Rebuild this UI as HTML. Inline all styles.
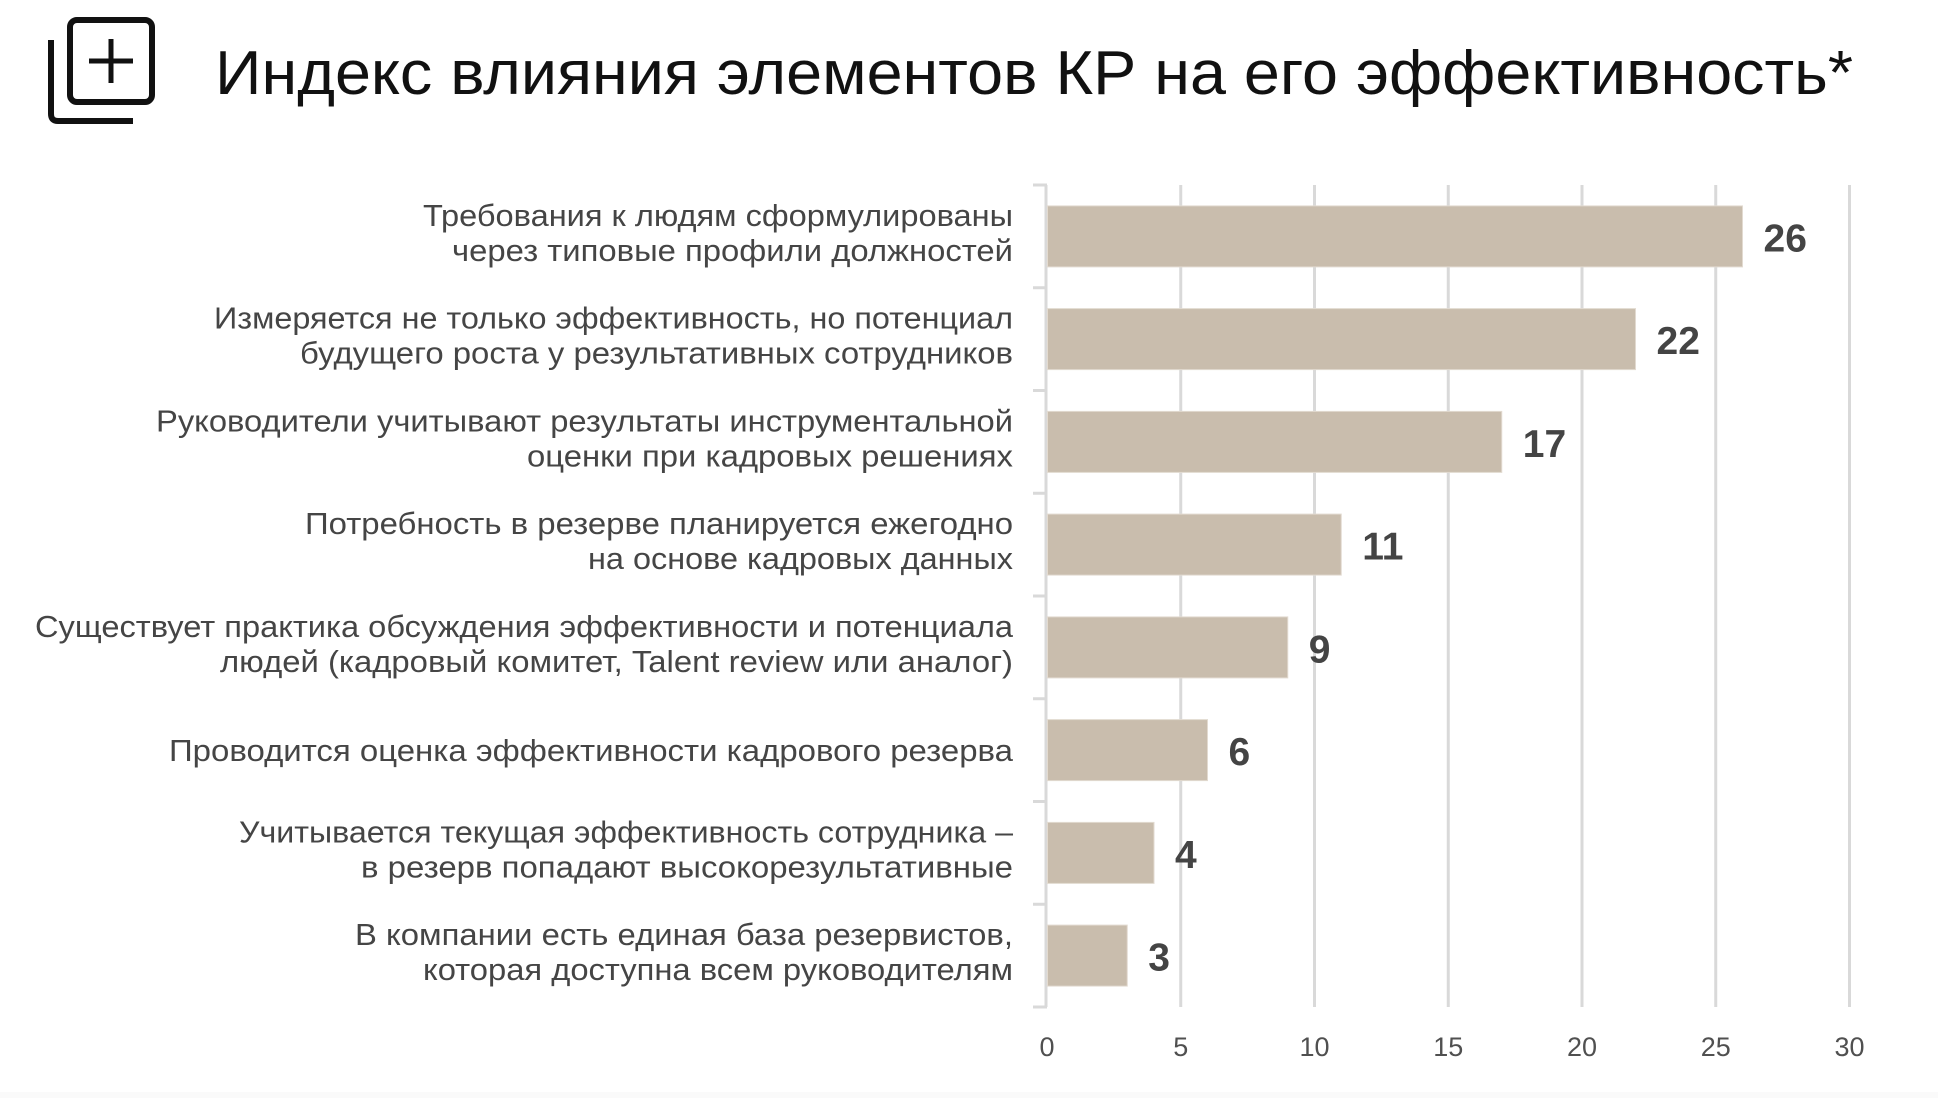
<!DOCTYPE html>
<html>
<head>
<meta charset="utf-8">
<style>
  html, body { margin:0; padding:0; background:#ffffff; }
  body { width:1938px; height:1098px; overflow:hidden; }
  svg { display:block; }
  .lbl { font-family:"Liberation Sans","Noto Sans CJK SC",sans-serif; font-size:31px; fill:#454545; }
  .val { font-family:"Liberation Sans",sans-serif; font-size:39px; font-weight:bold; fill:#444444; }
  .tick { font-family:"Liberation Sans",sans-serif; font-size:27px; fill:#505050; }
  .title { font-family:"Liberation Sans","Noto Sans CJK SC",sans-serif; font-size:62px; fill:#111111; }
</style>
</head>
<body>
<svg width="1938" height="1098" viewBox="0 0 1938 1098" xmlns="http://www.w3.org/2000/svg">
  <rect x="0" y="0" width="1938" height="1098" fill="#ffffff"/>
  <rect x="0" y="1092" width="1938" height="6" fill="#fafafa"/>

  <!-- icon -->
  <g fill="none" stroke="#111111" stroke-linecap="butt">
    <rect x="70" y="20" width="82" height="82" rx="7" stroke-width="6"/>
    <line x1="89" y1="61" x2="133" y2="61" stroke-width="5"/>
    <line x1="111" y1="39" x2="111" y2="83" stroke-width="5"/>
    <path d="M51 40 V114 Q51 121 58 121 H133" stroke-width="6"/>
  </g>

  <!-- title -->
  <text class="title" x="215" y="94" textLength="1638" lengthAdjust="spacingAndGlyphs">Индекс влияния элементов КР на его эффективность*</text>

  <!-- gridlines -->
  <g stroke="#d9d9d9" stroke-width="3">
    <line x1="1180.75" y1="185" x2="1180.75" y2="1007"/>
    <line x1="1314.5" y1="185" x2="1314.5" y2="1007"/>
    <line x1="1448.25" y1="185" x2="1448.25" y2="1007"/>
    <line x1="1582" y1="185" x2="1582" y2="1007"/>
    <line x1="1715.75" y1="185" x2="1715.75" y2="1007"/>
    <line x1="1849.5" y1="185" x2="1849.5" y2="1007"/>
    <!-- y axis -->
    <line x1="1046" y1="185" x2="1046" y2="1007"/>
    <line x1="1033" y1="185" x2="1047" y2="185"/>
    <line x1="1033" y1="287.75" x2="1047" y2="287.75"/>
    <line x1="1033" y1="390.5" x2="1047" y2="390.5"/>
    <line x1="1033" y1="493.25" x2="1047" y2="493.25"/>
    <line x1="1033" y1="596" x2="1047" y2="596"/>
    <line x1="1033" y1="698.75" x2="1047" y2="698.75"/>
    <line x1="1033" y1="801.5" x2="1047" y2="801.5"/>
    <line x1="1033" y1="904.25" x2="1047" y2="904.25"/>
    <line x1="1033" y1="1007" x2="1047" y2="1007"/>
  </g>

  <!-- bars -->
  <g fill="#c9bdad" stroke="#e2dad0" stroke-width="1">
    <rect x="1047.5" y="205.9" width="695" height="61"/>
    <rect x="1047.5" y="308.6" width="588" height="61"/>
    <rect x="1047.5" y="411.4" width="454.25" height="61"/>
    <rect x="1047.5" y="514.1" width="293.75" height="61"/>
    <rect x="1047.5" y="616.9" width="240.25" height="61"/>
    <rect x="1047.5" y="719.6" width="160" height="61"/>
    <rect x="1047.5" y="822.4" width="106.5" height="61"/>
    <rect x="1047.5" y="925.1" width="79.75" height="61"/>
  </g>

  <!-- value labels -->
  <text class="val" x="1763.5" y="251.4">26</text>
  <text class="val" x="1656.5" y="354.1">22</text>
  <text class="val" x="1522.75" y="456.9">17</text>
  <text class="val" x="1362.25" y="559.6">11</text>
  <text class="val" x="1308.75" y="662.4">9</text>
  <text class="val" x="1228.5" y="765.1">6</text>
  <text class="val" x="1175" y="867.9">4</text>
  <text class="val" x="1148.25" y="970.6">3</text>

  <!-- category labels -->
  <text class="lbl" x="423" y="225.9" textLength="590" lengthAdjust="spacingAndGlyphs">Требования к людям сформулированы</text>
  <text class="lbl" x="452" y="260.9" textLength="561" lengthAdjust="spacingAndGlyphs">через типовые профили должностей</text>

  <text class="lbl" x="214" y="328.6" textLength="799" lengthAdjust="spacingAndGlyphs">Измеряется не только эффективность, но потенциал</text>
  <text class="lbl" x="300" y="363.6" textLength="713" lengthAdjust="spacingAndGlyphs">будущего роста у результативных сотрудников</text>

  <text class="lbl" x="156" y="431.4" textLength="857" lengthAdjust="spacingAndGlyphs">Руководители учитывают результаты инструментальной</text>
  <text class="lbl" x="527" y="466.4" textLength="486" lengthAdjust="spacingAndGlyphs">оценки при кадровых решениях</text>

  <text class="lbl" x="305" y="534.1" textLength="708" lengthAdjust="spacingAndGlyphs">Потребность в резерве планируется ежегодно</text>
  <text class="lbl" x="588" y="569.1" textLength="425" lengthAdjust="spacingAndGlyphs">на основе кадровых данных</text>

  <text class="lbl" x="35" y="636.9" textLength="978" lengthAdjust="spacingAndGlyphs">Существует практика обсуждения эффективности и потенциала</text>
  <text class="lbl" x="220" y="671.9" textLength="793" lengthAdjust="spacingAndGlyphs">людей (кадровый комитет, Talent review или аналог)</text>

  <text class="lbl" x="169" y="761.1" textLength="844" lengthAdjust="spacingAndGlyphs">Проводится оценка эффективности кадрового резерва</text>

  <text class="lbl" x="239" y="842.4" textLength="774" lengthAdjust="spacingAndGlyphs">Учитывается текущая эффективность сотрудника –</text>
  <text class="lbl" x="361" y="877.4" textLength="652" lengthAdjust="spacingAndGlyphs">в резерв попадают высокорезультативные</text>

  <text class="lbl" x="355" y="945.1" textLength="658" lengthAdjust="spacingAndGlyphs">В компании есть единая база резервистов,</text>
  <text class="lbl" x="423" y="980.1" textLength="590" lengthAdjust="spacingAndGlyphs">которая доступна всем руководителям</text>

  <!-- x tick labels -->
  <g text-anchor="middle">
    <text class="tick" x="1047" y="1056">0</text>
    <text class="tick" x="1180.75" y="1056">5</text>
    <text class="tick" x="1314.5" y="1056">10</text>
    <text class="tick" x="1448.25" y="1056">15</text>
    <text class="tick" x="1582" y="1056">20</text>
    <text class="tick" x="1715.75" y="1056">25</text>
    <text class="tick" x="1849.5" y="1056">30</text>
  </g>
</svg>
</body>
</html>
